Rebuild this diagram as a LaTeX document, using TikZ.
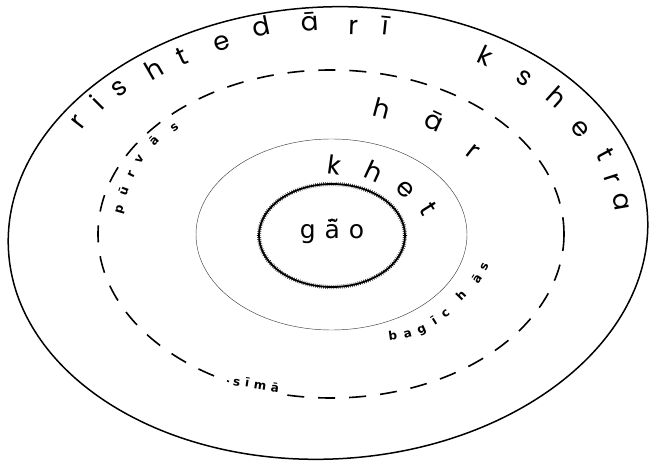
\documentclass[tikz,border=0pt]{standalone}
\usepackage{fontspec}
\setmainfont{Poppins}
\newfontfamily\labfont{DejaVu Sans}
\tikzset{
  ringtext/.style={font=\fontsize{26}{26}\selectfont, inner sep=0pt, text height=0.72em, text depth=0.2em},
  smalltext/.style={font=\labfont\bfseries\fontsize{12}{12}\selectfont, inner sep=0pt, text height=0.75em, text depth=0.2em},
  outerline/.style={line width=1.5pt},
  dashline/.style={line width=1.6pt, dash pattern=on 17pt off 14pt},
  thinline/.style={line width=0.45pt, black!75},
  hairline/.style={line width=1.8pt},
  hairticks/.style={line width=4.2pt, dash pattern=on 0.45pt off 1.6pt},
}
\begin{document}
\begin{tikzpicture}[x=1pt,y=-1pt]
\useasboundingbox (0,0) rectangle (649,462);
% rings
\draw[outerline, rotate around={3:(328,233)}] (328,233) ellipse[x radius=320, y radius=226];
\draw[dashline] (331,234) ellipse[x radius=233, y radius=164];
\draw[thinline] (331.5,234.5) ellipse[x radius=135.5, y radius=95.5];
\draw[hairline] (332,235.5) ellipse[x radius=73, y radius=51.5];
\draw[hairticks] (332,235.5) ellipse[x radius=73, y radius=51.5];
% outer ring text
\foreach \t/\x/\y/\a [count=\i] in {r/82/125/52, i/102/107/45, s/122/92/38, h/157/75/30, t/185/62/25, e/223/48/18, d/263/33/12, ā/310/28/4, r/353/32/-2, ī/385/32/-6, k/483/62/-25, s/522/82/-33, h/552/102/-42, e/577/132/-50, t/600/157/-62, r/607/180/-72, a/617/203/-80}
  \node[ringtext, rotate=\a] (o\i) at (\x,\y) {\t};
% har
\foreach \t/\x/\y/\a [count=\i] in {h/380/115/-15, ā/432/127/-25, r/470/155/-38}
  \node[ringtext, rotate=\a] (h\i) at (\x,\y) {\t};
% khet
\foreach \t/\x/\y/\a [count=\i] in {k/333/172/-8, h/371/178/-25, e/402/193/-42, t/423/212/-58}
  \node[ringtext, rotate=\a] (k\i) at (\x,\y) {\t};
% gao
\node[ringtext, font=\labfont\fontsize{25}{25}\selectfont] (gao) at (332,236) {g\hspace{9pt}ā̃\hspace{9pt}o};
% small labels
\foreach \t/\x/\y/\a [count=\i] in {p/120/210/74, ū/125/192/70, r/132/175/64, v/140/160/56, ā/155/142/46, s/175/128/36}
  \node[smalltext, rotate=\a] (p\i) at (\x,\y) {\t};
\foreach \t/\x/\y/\a [count=\i] in {b/393/337/8, a/408/335/14, g/422/330/24, ī/435/322/32, c/446/314/38, h/462/297/46, ā/478/280/56, s/485/267/64}
  \node[smalltext, rotate=\a] (b\i) at (\x,\y) {\t};
\node[smalltext, fill=white, inner xsep=4pt, inner ysep=2pt, rotate=-9, font=\labfont\bfseries\fontsize{12}{12}\selectfont\addfontfeature{LetterSpace=40}] (sima) at (256,386) {sīmā};
\end{tikzpicture}
\end{document}
